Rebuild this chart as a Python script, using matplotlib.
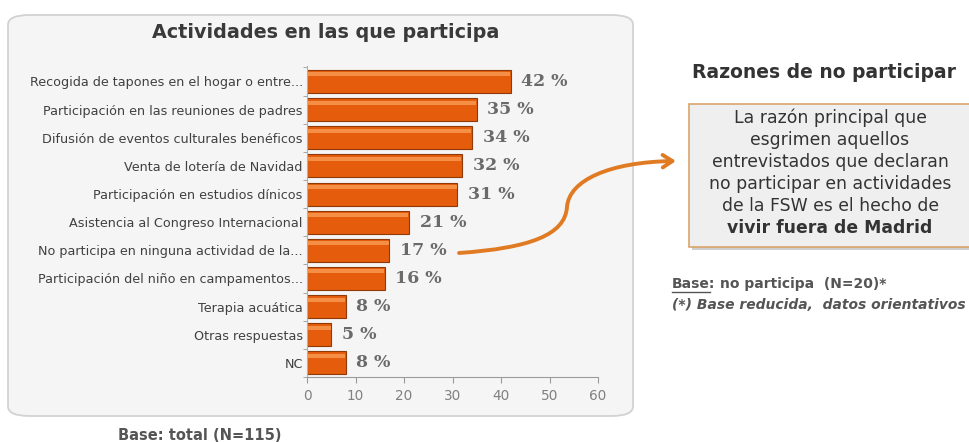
import numpy as np
import matplotlib
matplotlib.use("Agg")
import matplotlib.pyplot as plt
from matplotlib.patches import FancyBboxPatch, FancyArrowPatch
from matplotlib.path import Path
from matplotlib.lines import Line2D

categories = [
    "Recogida de tapones en el hogar o entre...",
    "Participación en las reuniones de padres",
    "Difusión de eventos culturales benéficos",
    "Venta de lotería de Navidad",
    "Participación en estudios dínicos",
    "Asistencia al Congreso Internacional",
    "No participa en ninguna actividad de la...",
    "Participación del niño en campamentos...",
    "Terapia acuática",
    "Otras respuestas",
    "NC",
]
values = [42, 35, 34, 32, 31, 21, 17, 16, 8, 5, 8]
xticks = [0, 10, 20, 30, 40, 50, 60]

W, H = 969, 442
fig = plt.figure(figsize=(W / 100, H / 100), dpi=100)
fig.patch.set_facecolor("white")

def fx(px):
    return px / W

def fy(py):
    return 1 - py / H

# rounded panel behind the chart
panel = FancyBboxPatch((fx(8), fy(416)), fx(625), fy(15) - fy(416),
                       boxstyle="round,pad=0,rounding_size=0.022",
                       transform=fig.transFigure, facecolor="#f5f5f5",
                       edgecolor="#d2d2d2", linewidth=1.3, zorder=-1)
fig.patches.append(panel)

fig.text(fx(326), fy(33), "Actividades en las que participa", ha="center", va="center",
         fontsize=13.8, fontweight="bold", color="#3a3a3a")

ax = fig.add_axes([fx(307), fy(377), fx(598) - fx(307), fy(66) - fy(377)])
ax.set_zorder(2)
ax.set_facecolor("none")
y = np.arange(len(values))
ax.barh(y, values, height=0.82, color="#e45c0c", edgecolor="#8f3a07", linewidth=0.8, zorder=2)
# soft highlight near the top of each bar
ax.barh(y - 0.25, [v - 0.3 for v in values], height=0.14, left=0.15, color="#f58f45",
        linewidth=0, zorder=3)
for yi, v in zip(y, values):
    ax.text(v + 2.2, yi, f"{v} %", va="center", ha="left", fontsize=12.5,
            fontweight="bold", color="#6a6a6a", family="DejaVu Serif")

ax.set_ylim(10.45, -0.55)
ax.set_xlim(0, 60)
ax.set_xticks(xticks)
ax.set_yticks(y)
ax.set_yticklabels(categories)
ax.set_yticks(np.arange(-0.5, len(values), 1.0), minor=True)
ax.tick_params(axis="y", which="major", length=0, labelsize=9.2, labelcolor="#404040", pad=3)
ax.tick_params(axis="y", which="minor", length=3, color="#9a9a9a")
ax.tick_params(axis="x", length=4, color="#9a9a9a", labelsize=9.8, labelcolor="#808080", pad=5)
for s in ["top", "right"]:
    ax.spines[s].set_visible(False)
ax.spines["left"].set_color("#b0b0b0")
ax.spines["bottom"].set_color("#9a9a9a")

fig.text(fx(118), fy(436), "Base: total (N=115)", ha="left", va="center",
         fontsize=10.5, fontweight="bold", color="#555555")

# right side
fig.text(fx(824), fy(72), "Razones de no participar", ha="center", va="center",
         fontsize=13.5, fontweight="bold", color="#333333")

shadow = FancyBboxPatch((fx(692), fy(250)), fx(290), fy(107) - fy(250),
                        boxstyle="square,pad=0", transform=fig.transFigure,
                        facecolor="#cfcfcf", edgecolor="none", zorder=1)
fig.patches.append(shadow)
box = FancyBboxPatch((fx(689), fy(247)), fx(290), fy(104) - fy(247),
                     boxstyle="square,pad=0", transform=fig.transFigure,
                     facecolor="#efefef", edgecolor="#d9a46a", linewidth=1.2, zorder=2)
fig.patches.append(box)

lines = ["La razón principal que", "esgrimen aquellos", "entrevistados que declaran",
         "no participar en actividades", "de la FSW es el hecho de"]
for i, t in enumerate(lines):
    fig.text(fx(830), fy(118 + i * 22), t, ha="center", va="center",
             fontsize=12.4, color="#333333", zorder=3)
fig.text(fx(830), fy(118 + 5 * 22), "vivir fuera de Madrid", ha="center", va="center",
         fontsize=12.4, fontweight="bold", color="#333333", zorder=3)

fig.text(fx(672), fy(284), "Base:", ha="left", va="center",
         fontsize=10, fontweight="bold", color="#555555")
fig.add_artist(Line2D([fx(672), fx(710)], [fy(292), fy(292)], color="#555555", lw=1))
fig.text(fx(720), fy(284), "no participa  (N=20)*", ha="left", va="center",
         fontsize=10, fontweight="bold", color="#555555")
fig.text(fx(672), fy(305), "(*) Base reducida,  datos orientativos", ha="left", va="center",
         fontsize=10, fontweight="bold", style="italic", color="#555555")

# curved arrow from the 17 % bar to the box
verts = [(fx(459), fy(253)), (fx(530), fy(248)), (fx(565), fy(235)), (fx(567), fy(207)),
         (fx(569), fy(180)), (fx(610), fy(162)), (fx(676), fy(161))]
codes = [Path.MOVETO, Path.CURVE4, Path.CURVE4, Path.CURVE4, Path.CURVE4, Path.CURVE4, Path.CURVE4]
arrow = FancyArrowPatch(path=Path(verts, codes), transform=fig.transFigure,
                        arrowstyle="->,head_length=7,head_width=4.5", color="#e07b24",
                        linewidth=2.8, capstyle="round", zorder=4)
fig.patches.append(arrow)

fig.savefig("out.png", dpi=100, facecolor="white")
